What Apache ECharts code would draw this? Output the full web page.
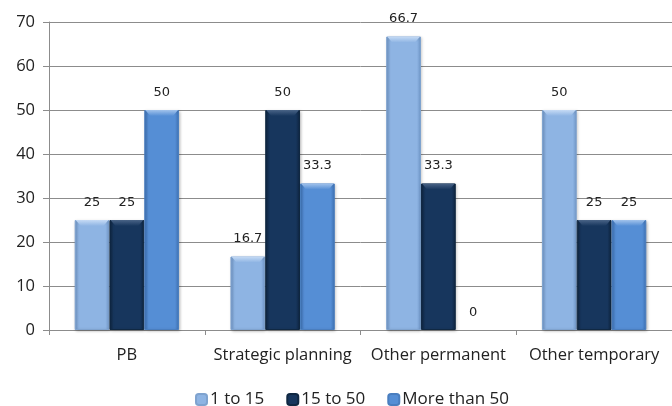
<!DOCTYPE html>
<html>
<head>
<meta charset="utf-8">
<script src="https://cdn.jsdelivr.net/npm/echarts@6/dist/echarts.min.js"></script>
<style>
  html, body { margin: 0; padding: 0; background: #fff; }
  #chart { width: 672px; height: 406px; }
</style>
</head>
<body>
<div id="chart"></div>
<script>
// Share of respondents by organisation size, per body type
const categories = ['PB', 'Strategic planning', 'Other permanent', 'Other temporary'];
const seriesNames = ['1 to 15', '15 to 50', 'More than 50'];
const small = [25, 16.7, 66.7, 50];
const medium = [25, 50, 33.3, 25];
const large = [50, 33.3, 0, 25];
const yTicks = { min: 0, max: 70, step: 10 };

// base, edge and highlight shades per series
const palette = [
  { base: '#8EB4E3', edge: '#7299CB', light: '#C6DBF5', border: '#7FA3CF' },
  { base: '#17365D', edge: '#0F2540', light: '#4A6487', border: '#102842' },
  { base: '#558ED5', edge: '#3F73B6', light: '#A2C3EC', border: '#4A7EBF' }
];

function bevel(p) {
  return {
    type: 'linear', x: 0, y: 0, x2: 1, y2: 0,
    colorStops: [
      { offset: 0, color: p.edge },
      { offset: 0.12, color: p.base },
      { offset: 0.88, color: p.base },
      { offset: 1, color: p.edge }
    ]
  };
}

const values = [small, medium, large];
const chart = echarts.init(document.getElementById('chart'), null, { renderer: 'canvas' });

chart.setOption({
  animation: false,
  grid: { left: 49, top: 22, width: 626, height: 308 },
  legend: {
    top: 386,
    left: 190,
    itemWidth: 11,
    itemHeight: 11,
    itemGap: 22,
    textStyle: { fontFamily: 'Open Sans', fontSize: 17, color: '#222', padding: [0, 0, 0, -2] },
    data: seriesNames
  },
  xAxis: {
    type: 'category',
    data: categories,
    axisLine: { lineStyle: { color: '#8c8c8c' } },
    axisTick: { show: true, length: 5, lineStyle: { color: '#8c8c8c' } },
    axisLabel: { interval: 0, fontFamily: 'Open Sans', fontSize: 16.5, color: '#222', margin: 17 }
  },
  yAxis: {
    type: 'value',
    min: yTicks.min,
    max: yTicks.max,
    interval: yTicks.step,
    axisLine: { show: true, lineStyle: { color: '#8c8c8c' } },
    axisTick: { show: true, length: 6, lineStyle: { color: '#8c8c8c' } },
    splitLine: { lineStyle: { color: '#8c8c8c' } },
    axisLabel: { fontFamily: 'Open Sans', fontSize: 16.5, color: '#222', margin: 14 }
  },
  series: seriesNames.map((name, i) => ({
    name,
    type: 'bar',
    data: values[i].map(v => v === 0
      ? { value: v, itemStyle: { borderWidth: 0, shadowBlur: 0, shadowOffsetX: 0, shadowOffsetY: 0, opacity: 0 } }
      : v),
    barGap: '0%',
    barCategoryGap: '33%',
    itemStyle: {
      color: bevel(palette[i]),
      borderColor: palette[i].border,
      borderWidth: 1,
      shadowColor: 'rgba(0,0,0,0.25)',
      shadowBlur: 3,
      shadowOffsetX: 1,
      shadowOffsetY: 1
    },
    label: {
      show: true,
      position: 'top',
      distance: 11,
      fontFamily: 'DejaVu Sans',
      fontSize: 13,
      color: '#222',
      opacity: 1
    }
  }))
});

// top bevel highlight drawn as a thin band over each bar top
const zr = chart.getZr();
seriesNames.forEach((name, i) => {
  values[i].forEach((v, j) => {
    if (v <= 0) return;
    const layout = chart.getModel().getSeriesByIndex(i).getData().getItemLayout(j);
    const x = layout.x, y = layout.y + layout.height, w = layout.width;
    const band = Math.min(6, Math.abs(layout.height));
    zr.add(new echarts.graphic.Polygon({
      shape: { points: [[x + 1, y], [x + w - 1, y], [x + w - 6, y + band], [x + 6, y + band]] },
      style: {
        fill: new echarts.graphic.LinearGradient(0, 0, 0, 1, [
          { offset: 0, color: palette[i].light },
          { offset: 1, color: palette[i].base }
        ])
      },
      z: 100
    }));
  });
});
</script>
</body>
</html>
